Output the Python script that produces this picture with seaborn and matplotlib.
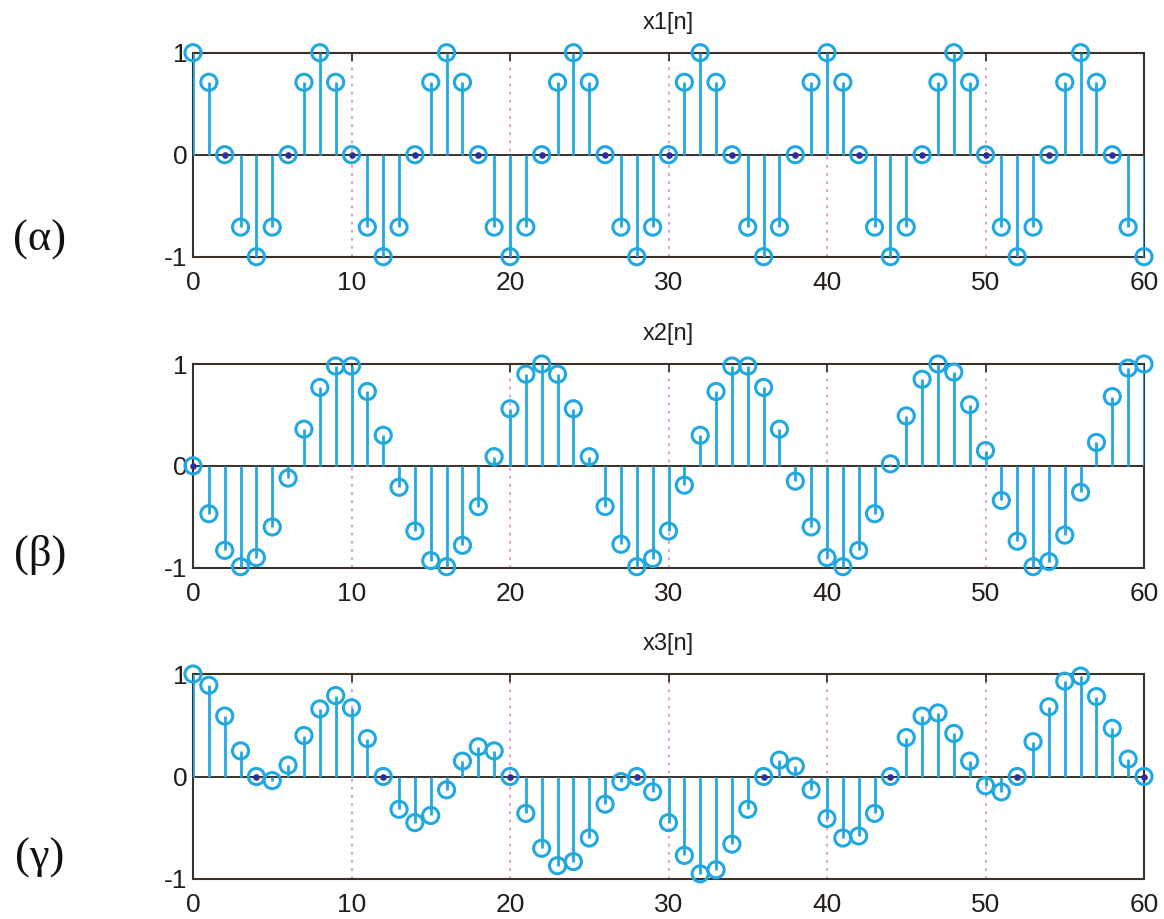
import matplotlib
matplotlib.use("Agg")
import matplotlib.pyplot as plt
import pandas as pd
import seaborn as sns

n = list(range(61))

x1 = [1, 0.71, 0, -0.71, -1, -0.71, 0, 0.71,
      1, 0.71, 0, -0.71, -1, -0.71, 0, 0.71,
      1, 0.71, 0, -0.71, -1, -0.71, 0, 0.71,
      1, 0.71, 0, -0.71, -1, -0.71, 0, 0.71,
      1, 0.71, 0, -0.71, -1, -0.71, 0, 0.71,
      1, 0.71, 0, -0.71, -1, -0.71, 0, 0.71,
      1, 0.71, 0, -0.71, -1, -0.71, 0, 0.71,
      1, 0.71, 0, -0.71, -1]

x2 = [0, -0.47, -0.83, -0.99, -0.90, -0.60, -0.12, 0.36, 0.77, 0.98,
      0.98, 0.73, 0.30, -0.21, -0.64, -0.93, -0.99, -0.78, -0.40, 0.09,
      0.56, 0.90, 1.00, 0.90, 0.56, 0.09, -0.40, -0.77, -0.99, -0.91,
      -0.64, -0.19, 0.30, 0.73, 0.98, 0.98, 0.77, 0.36, -0.15, -0.60,
      -0.90, -0.99, -0.83, -0.47, 0.02, 0.49, 0.85, 1.00, 0.92, 0.60,
      0.15, -0.34, -0.74, -0.99, -0.94, -0.68, -0.26, 0.23, 0.68, 0.96,
      1.00]

x3 = [1.00, 0.89, 0.59, 0.25, 0, -0.04, 0.11, 0.40, 0.66, 0.79,
      0.67, 0.37, 0, -0.32, -0.45, -0.38, -0.13, 0.15, 0.29, 0.25,
      0, -0.36, -0.70, -0.87, -0.83, -0.60, -0.27, -0.05, 0, -0.15,
      -0.45, -0.77, -0.95, -0.91, -0.66, -0.32, 0, 0.16, 0.10, -0.13,
      -0.41, -0.60, -0.58, -0.36, 0, 0.38, 0.59, 0.62, 0.42, 0.15,
      -0.09, -0.15, 0, 0.34, 0.68, 0.93, 0.98, 0.78, 0.47, 0.17,
      0]

series = [x1, x2, x3]
titles = ["x1[n]", "x2[n]", "x3[n]"]
panel_labels = ["(α)", "(β)", "(γ)"]
xticks = [0, 10, 20, 30, 40, 50, 60]
yticks = [-1, 0, 1]

sns.set_style("white")
plt.rcParams["font.family"] = ["Liberation Sans", "DejaVu Sans"]
plt.rcParams["axes.unicode_minus"] = False

STEM = "#22a8e0"
FRAME = "#3a312a"
GRID = "#e58ad8"
DOT = "#2b2f9c"

fig = plt.figure(figsize=(11.64, 9.19), dpi=100)
W, H = 1164, 919
left_px, right_px = 193, 1144
panels_px = [(52.7, 256.7), (364, 567.7), (674, 879)]
label_y_px = [240, 555, 858]

for y, title, lab, (top, bot), ly in zip(series, titles, panel_labels, panels_px, label_y_px):
    ax = fig.add_axes([left_px / W, 1 - bot / H, (right_px - left_px) / W, (bot - top) / H])
    df = pd.DataFrame({"n": n, "v": y})

    ax.grid(axis="x", color=GRID, linestyle=(0, (1.5, 3)), linewidth=1.3, zorder=0)
    ax.axhline(0, color=FRAME, linewidth=1.4, zorder=1)
    ax.vlines(df["n"], 0, df["v"], color=STEM, linewidth=2.0, zorder=3)

    sns.scatterplot(data=df, x="n", y="v", ax=ax, s=135, marker="o",
                    color=STEM, zorder=4, legend=False)
    coll = ax.collections[-1]
    coll.set_facecolor("none")
    coll.set_edgecolor(STEM)
    coll.set_linewidth(2.2)
    coll.set_clip_on(False)

    zeros = df[df["v"] == 0]
    ax.scatter(zeros["n"], zeros["v"], s=14, color=DOT, zorder=5, clip_on=False)

    ax.set_xlim(0, 60)
    ax.set_ylim(-1, 1)
    ax.set_xticks(xticks)
    ax.set_yticks(yticks)
    ax.set_xlabel("")
    ax.set_ylabel("")
    ax.tick_params(axis="both", direction="in", length=6, width=1.3, color=FRAME,
                   labelsize=19, labelcolor="#231e1a", top=True, right=True)
    ax.tick_params(axis="x", pad=10)
    ax.tick_params(axis="y", pad=4)
    for sp in ax.spines.values():
        sp.set_color(FRAME)
        sp.set_linewidth(1.5)
        sp.set_visible(True)
    ax.set_title(title, fontsize=17, color="#231e1a", pad=17,
                 family=["Liberation Sans Narrow", "Liberation Sans", "DejaVu Sans"])

    fig.text(40 / W, 1 - ly / H, lab, fontsize=32, ha="center", va="center",
             family=["Liberation Serif", "DejaVu Serif"], color="#111111")

fig.savefig("out.png", dpi=100)
